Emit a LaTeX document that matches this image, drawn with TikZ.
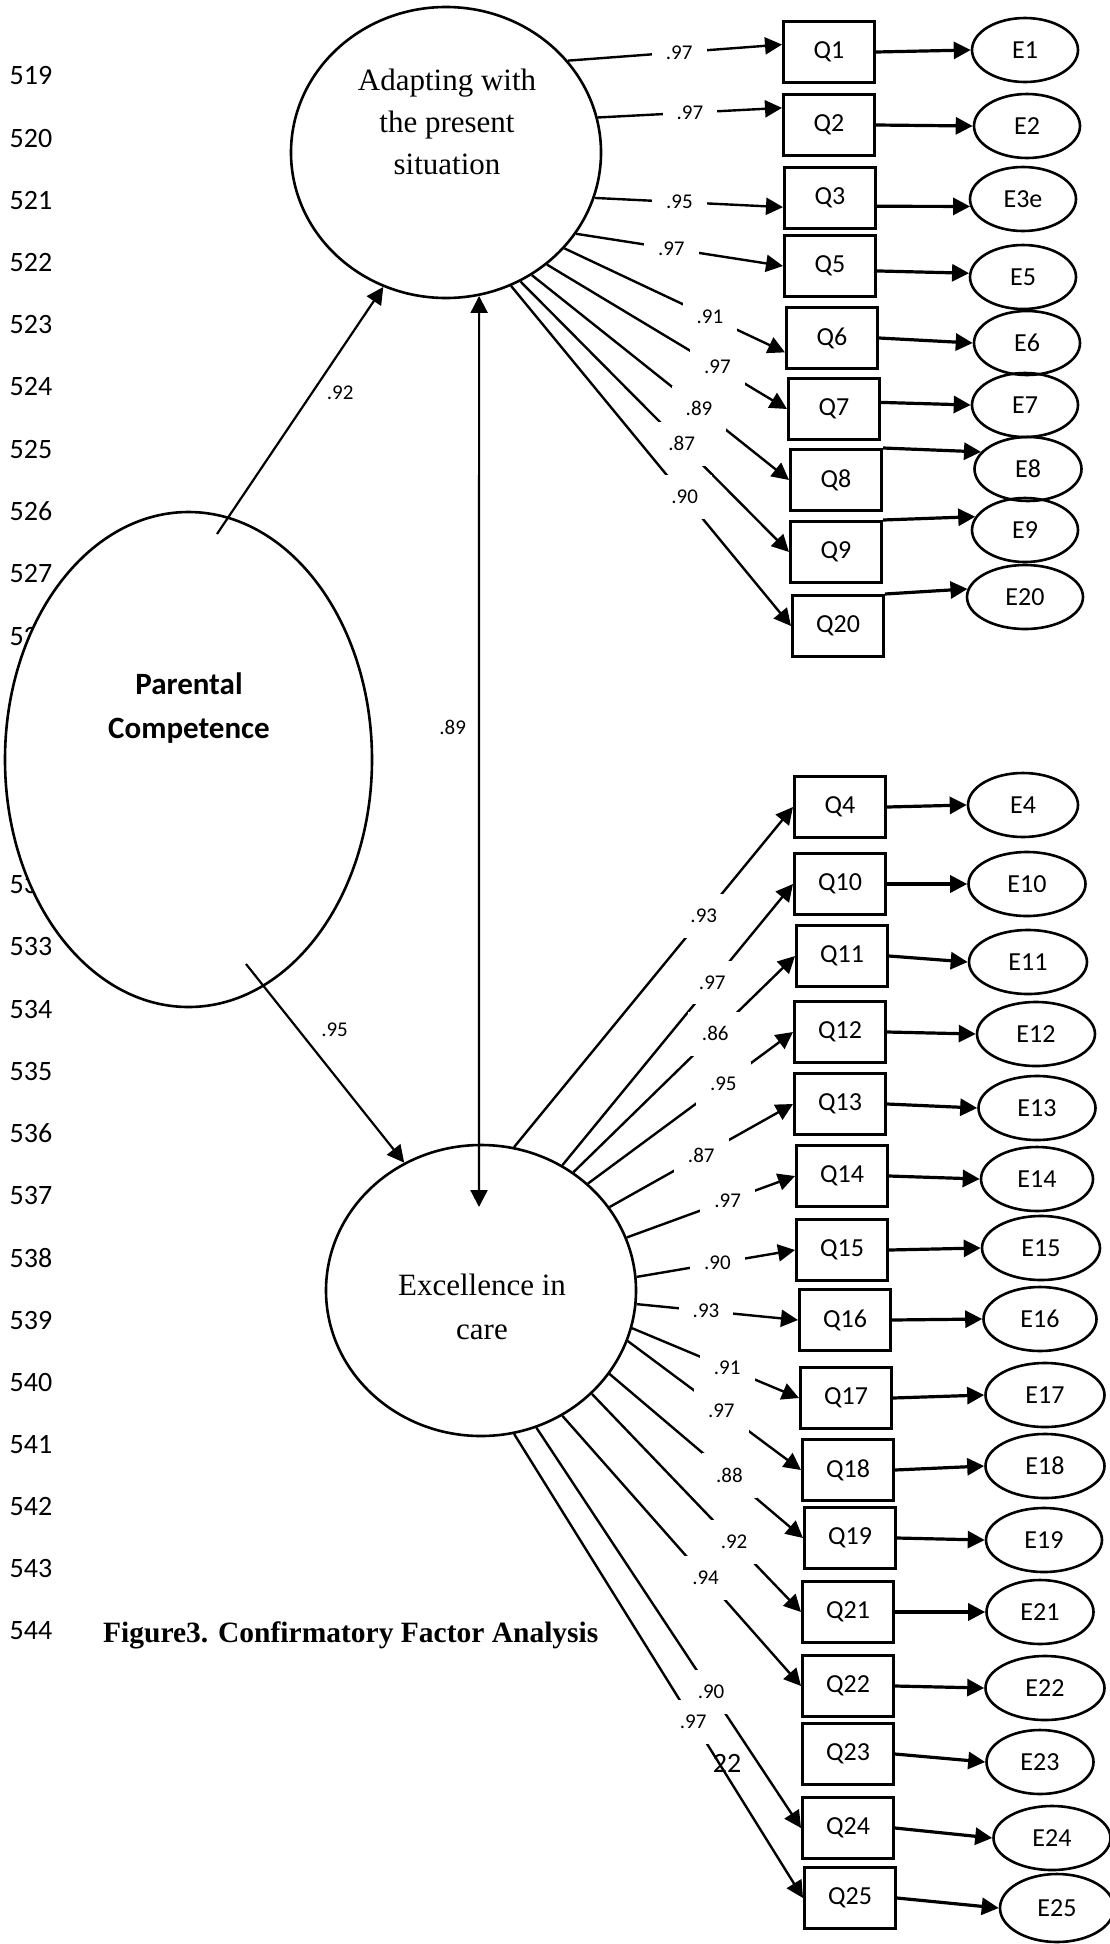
\documentclass[tikz,border=0pt]{standalone}
\usepackage{fontspec}
\setmainfont{Liberation Serif}
\newfontfamily\calfont{Carlito}
\usetikzlibrary{shapes.geometric,arrows.meta}

\begin{document}
\begin{tikzpicture}[x=1pt,y=-1pt,
  latent/.style={ellipse, draw, line width=2.6pt, fill=white, inner sep=0pt},
  qbox/.style={rectangle, draw, line width=3pt, minimum width=91pt, minimum height=61pt, inner sep=0pt, font=\calfont\fontsize{26}{30}\selectfont},
  ebox/.style={ellipse, draw, line width=2.6pt, minimum width=110pt, minimum height=64pt, inner sep=0pt, font=\calfont\fontsize{26}{30}\selectfont},
  loading/.style={line width=2.4pt, -{Triangle[length=17pt,width=17pt]}},
  errarr/.style={line width=3.2pt, -{Triangle[length=17pt,width=17pt]}},
  regr/.style={line width=2.2pt, -{Triangle[length=17pt,width=17pt]}},
  corr/.style={line width=2.2pt, {Triangle[length=17pt,width=17pt]}-{Triangle[length=17pt,width=17pt]}},
  lbl/.style={fill=white, inner xsep=14pt, inner ysep=15pt, font=\calfont\fontsize{21}{25}\selectfont},
  sidelbl/.style={inner sep=0pt, font=\calfont\fontsize{21}{25}\selectfont},
  lineno/.style={inner sep=0pt, font=\calfont\fontsize{28}{32}\selectfont},
  ftext/.style={align=center, inner sep=0pt, font=\fontsize{31}{42}\selectfont}]
\useasboundingbox (0,0) rectangle (1110,1944);

% line numbers of the page
\foreach \n [count=\i from 0] in {519,...,544}
  \node[lineno] (ln\n) at (31,{76+62.2*\i}) {\n};
\node[anchor=base west, inner sep=0pt, font=\bfseries\fontsize{29.5}{34}\selectfont] (cap) at (103,1642) {Figure3. Confirmatory Factor Analysis};
\node[lineno] (pgno) at (727,1763) {22};

% latent variables
\node[latent, minimum width=367pt, minimum height=495pt] (pc) at (188.5,759.5) {};
\node[ftext, font=\calfont\bfseries\fontsize{31}{44}\selectfont] (pctxt) at (189,708) {Parental\\Competence};
\node[latent, minimum width=310pt, minimum height=291pt] (ad) at (446,152.5) {};
\node[ftext] (adtxt) at (447,122) {Adapting with\\the present\\situation};
\node[latent, minimum width=310pt, minimum height=291pt] (ex) at (481,1290.5) {};
\node[ftext, font=\fontsize{31}{44}\selectfont] (extxt) at (482,1307) {Excellence in\\care};

% items of the first factor
\node[qbox] (q1) at (829,52) {Q1};
\node[qbox] (q2) at (829,125) {Q2};
\node[qbox] (q3) at (830,198) {Q3};
\node[qbox] (q5) at (830,266) {Q5};
\node[qbox] (q6) at (832,338) {Q6};
\node[qbox] (q7) at (834,409) {Q7};
\node[qbox] (q8) at (836,480) {Q8};
\node[qbox] (q9) at (836,552) {Q9};
\node[qbox] (q20) at (838,626) {Q20};
% items of the second factor
\node[qbox] (q4) at (840,807) {Q4};
\node[qbox] (q10) at (840,884) {Q10};
\node[qbox] (q11) at (842,956) {Q11};
\node[qbox] (q12) at (840,1032) {Q12};
\node[qbox] (q13) at (840,1104) {Q13};
\node[qbox] (q14) at (842,1176) {Q14};
\node[qbox] (q15) at (842,1250) {Q15};
\node[qbox] (q16) at (845,1320) {Q16};
\node[qbox] (q17) at (846,1398) {Q17};
\node[qbox] (q18) at (848,1470) {Q18};
\node[qbox] (q19) at (850,1538) {Q19};
\node[qbox] (q21) at (848,1612) {Q21};
\node[qbox] (q22) at (848,1686) {Q22};
\node[qbox] (q23) at (848,1754) {Q23};
\node[qbox] (q24) at (848,1828) {Q24};
\node[qbox] (q25) at (850,1898) {Q25};

% error terms
\node[ebox, minimum width=106pt] (e1) at (1025,50) {E1};
\node[ebox, minimum width=106pt] (e2) at (1027,126) {E2};
\node[ebox, minimum width=106pt] (e3) at (1023,199) {E3e};
\node[ebox, minimum width=106pt] (e5) at (1023,277) {E5};
\node[ebox, minimum width=106pt] (e6) at (1027,343) {E6};
\node[ebox, minimum width=106pt] (e7) at (1025,405) {E7};
\node[ebox, minimum width=107pt] (e8) at (1028,469) {E8};
\node[ebox, minimum width=106pt] (e9) at (1025,530) {E9};
\node[ebox, minimum width=116pt] (e20) at (1025,597) {E20};
\node[ebox, minimum width=110pt] (e4) at (1023,805) {E4};
\node[ebox, minimum width=117pt] (e10) at (1027,884) {E10};
\node[ebox, minimum width=118pt] (e11) at (1028,962) {E11};
\node[ebox, minimum width=118pt] (e12) at (1036,1034) {E12};
\node[ebox, minimum width=117pt] (e13) at (1037,1108) {E13};
\node[ebox, minimum width=112pt] (e14) at (1037,1179) {E14};
\node[ebox, minimum width=118pt] (e15) at (1041,1248) {E15};
\node[ebox, minimum width=113pt] (e16) at (1040,1319) {E16};
\node[ebox, minimum width=119pt] (e17) at (1045,1395) {E17};
\node[ebox, minimum width=119pt] (e18) at (1045,1466) {E18};
\node[ebox, minimum width=116pt] (e19) at (1044,1540) {E19};
\node[ebox, minimum width=107pt] (e21) at (1040,1612) {E21};
\node[ebox, minimum width=119pt] (e22) at (1045,1688) {E22};
\node[ebox, minimum width=107pt] (e23) at (1040,1762) {E23};
\node[ebox, minimum width=117pt] (e24) at (1052,1838) {E24};
\node[ebox, minimum width=114pt, minimum height=68pt] (e25) at (1057,1908) {E25};

% structural paths
\coordinate (pcA) at (217,534);
\coordinate (pcE) at (246,964);
\coordinate (exTop) at (479,1207);
\draw[regr] (pcA) -- (ad.245) node[sidelbl, pos=0.57, right=14pt] (l92) {.92};
\draw[regr] (pcE) -- (ex.121) node[sidelbl, pos=0.33, right=22pt] (l95) {.95};
\draw[corr] (ad.-77) -- (exTop) node[sidelbl, pos=0.474, left=12pt] (l89) {.89};

% loadings on the first factor
\draw[loading] (ad.37) -- (q1.171) node[lbl, pos=0.52] (la1) {.97};
\draw[loading] (ad.13) -- (q2.160) node[lbl, pos=0.50] (la2) {.97};
\draw[loading] (ad.-17) -- (q3.191) node[lbl, pos=0.45] (la3) {.95};
\draw[loading] (ad.-32) -- (q5.west) node[lbl, pos=0.46] (la5) {.97};
\draw[loading] (ad.-39) -- (q6.197) node[lbl, pos=0.66] (la6) {.91};
\draw[loading] (ad.-48) -- (q7.west) node[lbl, pos=0.71] (la7) {.97};
\draw[loading] (ad.-55) -- (q8.west) node[lbl, pos=0.65] (la8) {.89};
\draw[loading] (ad.-60) -- (q9.west) node[lbl, pos=0.60] (la9) {.87};
\draw[loading] (ad.-64) -- (q20.west) node[lbl, pos=0.62] (la20) {.90};

% loadings on the second factor
\draw[loading] (ex.77) -- (q4.west) node[lbl, pos=0.68] (lb4) {.93};
\draw[loading] (ex.57) -- (q10.west) node[lbl, pos=0.65] (lb10) {.97};
\draw[loading] (ex.52) -- (q11.west) node[lbl, pos=0.64] (lb11) {.86};
\draw[loading] (ex.45) -- (q12.west) node[lbl, pos=0.66] (lb12) {.95};
\draw[loading] (ex.33) -- (q13.west) node[lbl, pos=0.50] (lb13) {.87};
\draw[loading] (ex.20) -- (q14.west) node[lbl, pos=0.60] (lb14) {.97};
\draw[loading] (ex.5) -- (q15.west) node[lbl, pos=0.51] (lb15) {.90};
\draw[loading] (ex.-5) -- (q16.west) node[lbl, pos=0.43] (lb16) {.93};
\draw[loading] (ex.-14) -- (q17.west) node[lbl, pos=0.57] (lb17) {.91};
\draw[loading] (ex.-19) -- (q18.west) node[lbl, pos=0.54] (lb18) {.97};
\draw[loading] (ex.-33) -- (q19.west) node[lbl, pos=0.62] (lb19) {.88};
\draw[loading] (ex.-43) -- (q21.west) node[lbl, pos=0.68] (lb21) {.92};
\draw[loading] (ex.-57) -- (q22.west) node[lbl, pos=0.60] (lb22) {.94};
\draw[loading] (ex.-68) -- (q24.west) node[lbl, pos=0.66] (lb24) {.90};
\draw[loading] (ex.-77) -- (q25.west) node[lbl, pos=0.62] (lb25) {.97};

% item to error
\draw[errarr] (q1.east) -- (e1.west);
\draw[errarr] (q2.east) -- (e2.west);
\draw[errarr] (q3.-10) -- (e3.188);
\draw[errarr] (q5.-6) -- (e5.176);
\draw[errarr] (q6.east) -- (e6.west);
\draw[errarr] (q7.8) -- (e7.west);
\draw[errarr] (q8.north east) -- (e8.160);
\draw[errarr] (q9.north east) -- (e9.165);
\draw[errarr] (q20.north east) -- (e20.172);
\draw[errarr] (q4.east) -- (e4.west);
\draw[errarr] (q10.east) -- (e10.west);
\draw[errarr] (q11.east) -- (e11.west);
\draw[errarr] (q12.east) -- (e12.west);
\draw[errarr] (q13.east) -- (e13.west);
\draw[errarr] (q14.east) -- (e14.west);
\draw[errarr] (q15.east) -- (e15.west);
\draw[errarr] (q16.east) -- (e16.west);
\draw[errarr] (q17.east) -- (e17.west);
\draw[errarr] (q18.east) -- (e18.west);
\draw[errarr] (q19.east) -- (e19.west);
\draw[errarr] (q21.east) -- (e21.west);
\draw[errarr] (q22.east) -- (e22.west);
\draw[errarr] (q23.east) -- (e23.west);
\draw[errarr] (q24.east) -- (e24.west);
\draw[errarr] (q25.east) -- (e25.west);
\end{tikzpicture}
\end{document}
